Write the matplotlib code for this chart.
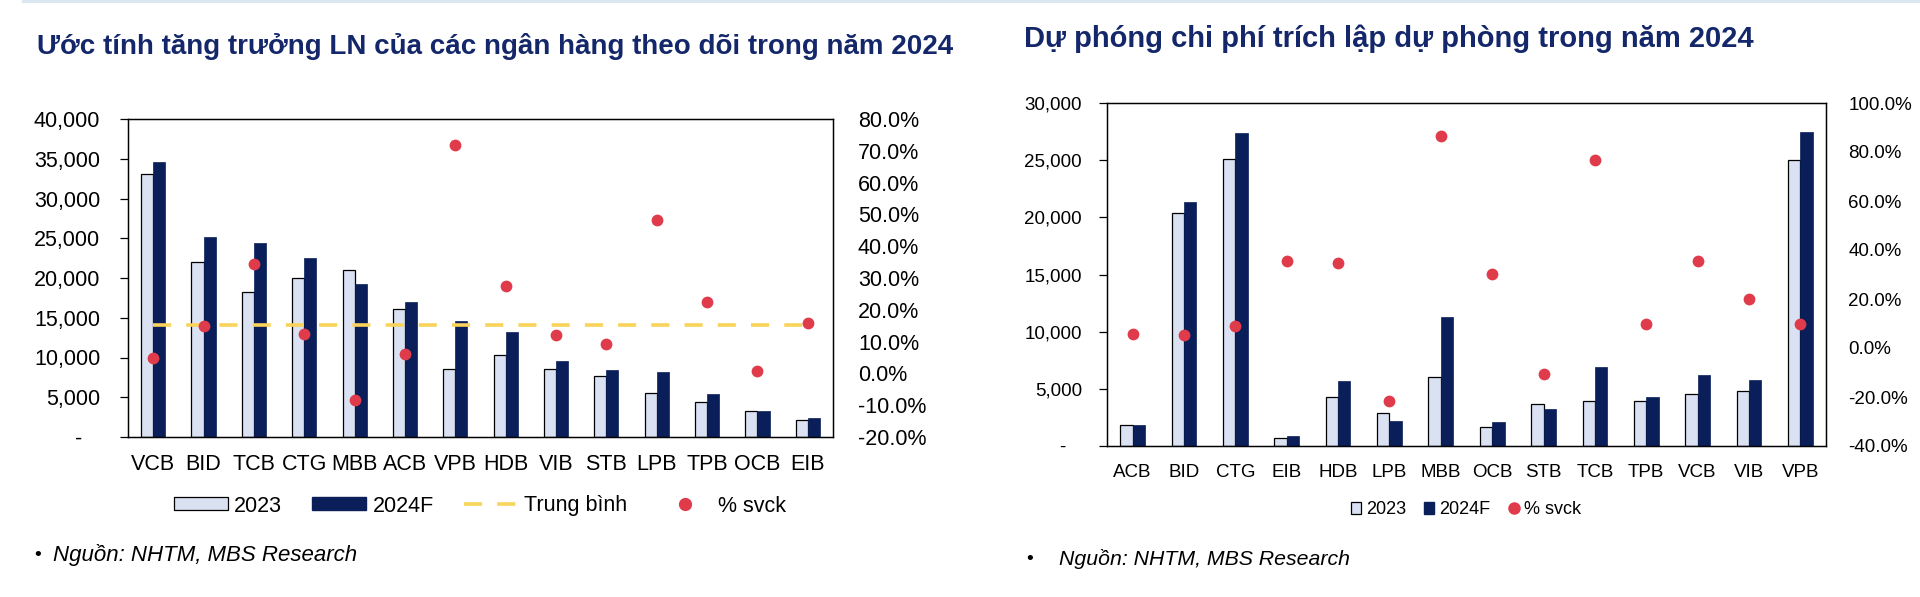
import numpy as np
import matplotlib.pyplot as plt
from matplotlib.patches import Patch, Rectangle
from matplotlib.lines import Line2D
from matplotlib.ticker import FuncFormatter

plt.rcParams['font.family'] = ['Liberation Sans', 'DejaVu Sans']

# --- chart 1: loi nhuan
banks1 = ["VCB", "BID", "TCB", "CTG", "MBB", "ACB", "VPB", "HDB", "VIB", "STB", "LPB", "TPB", "OCB", "EIB"]
ln_2023 = [33040, 21970, 18200, 20000, 21050, 16060, 8510, 10310, 8550, 7720, 5580, 4440, 3270, 2140]
ln_2024f = [34590, 25200, 24400, 22470, 19250, 16980, 14550, 13170, 9560, 8390, 8180, 5410, 3230, 2430]
ln_svck = [4.8, 14.8, 34.3, 12.5, -8.4, 6.0, 71.8, 27.6, 12.2, 9.3, 48.3, 22.5, 0.7, 15.8]
ln_tb = 15.2

# --- chart 2: chi phi du phong
banks2 = ["ACB", "BID", "CTG", "EIB", "HDB", "LPB", "MBB", "OCB", "STB", "TCB", "TPB", "VCB", "VIB", "VPB"]
dp_2023 = [1810, 20340, 25130, 700, 4260, 2860, 6070, 1630, 3710, 3940, 3970, 4580, 4840, 25010]
dp_2024f = [1870, 21360, 27370, 905, 5690, 2220, 11320, 2100, 3270, 6920, 4320, 6190, 5780, 27460]
dp_svck = [5.6, 5.2, 9.1, 35.6, 34.5, -21.6, 86.6, 30.3, -10.7, 76.8, 9.6, 35.4, 20.2, 10.0]

c23 = "#DAE1F2"
c24 = "#0A1E5A"
cdot = "#DF3B4B"
cavg = "#FAD35A"
ctitle = "#14276A"
avg_ls = (0, (5.0, 4.2))

W, H = 1920, 597
fig = plt.figure(figsize=(W / 100, H / 100), dpi=100)
fig.patches.append(Rectangle((22 / W, 1 - 3 / H), 1, 3 / H, transform=fig.transFigure,
                             color="#DCE5F2", lw=0))


def rect(x0, y0, x1, y1):
    return [x0 / W, 1 - y1 / H, (x1 - x0) / W, (y1 - y0) / H]


def num_fmt(v, pos):
    return "-   " if abs(v) < 1e-9 else f"{v:,.0f}"


def pct_fmt(v, pos):
    return f"{v:.1f}%"


def draw(box, banks, v23, v24, svck, ylim, ystep, plim, pstep, fs, ypad, xpad):
    ax = fig.add_axes(box)
    x = np.arange(len(banks))
    w = 0.24
    ax.bar(x - w / 2, v23, w, color=c23, edgecolor="black", linewidth=0.9, zorder=2)
    ax.bar(x + w / 2, v24, w, color=c24, edgecolor=c24, linewidth=0.5, zorder=2)
    ax.set_xlim(-0.5, len(banks) - 0.5)
    ax.set_ylim(*ylim)
    ax.set_yticks(np.arange(ylim[0], ylim[1] + 1, ystep))
    ax.yaxis.set_major_formatter(FuncFormatter(num_fmt))
    ax.set_xticks(x)
    ax.set_xticklabels(banks)
    ax.tick_params(axis="x", length=0, pad=xpad, labelsize=fs)
    ax.tick_params(axis="y", length=6, width=0.9, pad=ypad, labelsize=fs, direction="out")
    for s in ax.spines.values():
        s.set_linewidth(1.0)

    ax2 = ax.twinx()
    ax2.set_ylim(*plim)
    ax2.set_yticks(np.arange(plim[0], plim[1] + 0.1, pstep))
    ax2.yaxis.set_major_formatter(FuncFormatter(pct_fmt))
    ax2.tick_params(axis="y", length=0, pad=ypad + 4, labelsize=fs)
    ax2.scatter(x, svck, s=72, color=cdot, zorder=5, linewidths=0)
    return ax, ax2, x


ax, ax2, x1 = draw(rect(128, 119, 833, 437), banks1, ln_2023, ln_2024f, ln_svck,
                   (0, 40000), 5000, (-20, 80), 10, 15.5, 14, 12)
ax2.plot([x1[0], x1[-1]], [ln_tb, ln_tb], color=cavg, linewidth=2.6,
         linestyle=avg_ls, solid_capstyle="butt", dash_capstyle="butt", zorder=3)

bx, bx2, x2 = draw(rect(1107, 103, 1826, 446), banks2, dp_2023, dp_2024f, dp_svck,
                   (0, 30000), 5000, (-40, 100), 20, 13.5, 12, 13)

# titles
fig.text(37 / W, 1 - 54 / H, "Ước tính tăng trưởng LN của các ngân hàng theo dõi trong năm 2024",
         fontsize=20, fontweight="bold", color=ctitle, va="baseline")
fig.text(1024 / W, 1 - 47 / H, "Dự phóng chi phí trích lập dự phòng trong năm 2024",
         fontsize=21, fontweight="bold", color=ctitle, va="baseline")

# legends
h1 = [Patch(facecolor=c23, edgecolor="black", linewidth=0.9),
      Patch(facecolor=c24, edgecolor=c24),
      Line2D([], [], color=cavg, linewidth=2.6, linestyle=avg_ls, dash_capstyle="butt"),
      Line2D([], [], color=cdot, marker="o", markersize=8.5, linestyle="none")]
fig.legend(h1, ["2023", "2024F", "Trung bình", "% svck"], loc="center",
           bbox_to_anchor=(480 / W, 1 - 506 / H), ncol=4, frameon=False, fontsize=15.5,
           handlelength=2.5, handleheight=0.55, handletextpad=0.3, columnspacing=1.4)

h2 = [Patch(facecolor=c23, edgecolor="black", linewidth=0.9),
      Patch(facecolor=c24, edgecolor=c24),
      Line2D([], [], color=cdot, marker="o", markersize=8, linestyle="none")]
fig.legend(h2, ["2023", "2024F", "% svck"], loc="center",
           bbox_to_anchor=(1466 / W, 1 - 510 / H), ncol=3, frameon=False, fontsize=13,
           handlelength=0.55, handleheight=0.6, handletextpad=0.28, columnspacing=1.0)

# nguon
fig.text(34 / W, 1 - 555 / H, "•", fontsize=14, va="center")
fig.text(53 / W, 1 - 555 / H, "Nguồn: NHTM, MBS Research", fontsize=16, style="italic", va="center")
fig.text(1026 / W, 1 - 559 / H, "•", fontsize=14, va="center")
fig.text(1059 / W, 1 - 559 / H, "Nguồn: NHTM, MBS Research", fontsize=15.3, style="italic", va="center")

fig.savefig("out.png", dpi=100)
